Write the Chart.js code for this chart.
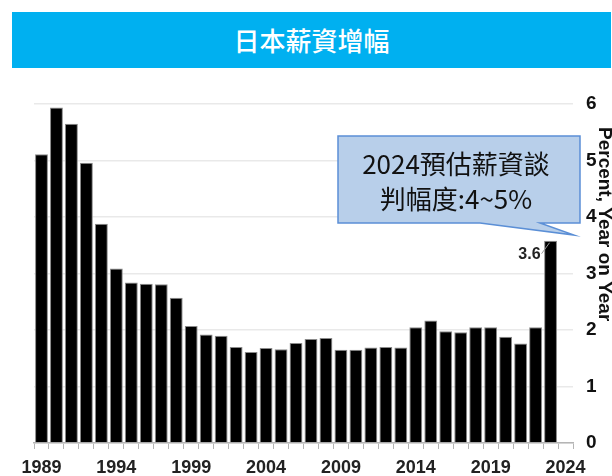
<!DOCTYPE html>
<html>
<head>
<meta charset="utf-8">
<script src="https://cdn.jsdelivr.net/npm/chart.js@4.4.1/dist/chart.umd.min.js"></script>
<style>
  body { margin: 0; background: #fff; }
  #wrap { position: relative; width: 612px; height: 476px; }
  #banner {
    position: absolute; left: 12px; top: 12px; width: 599px; height: 56px;
    background: #00b0f0; color: #fff; text-align: center;
    font: 500 26px "Noto Sans CJK TC", "Noto Sans", sans-serif; line-height: 56px;
  }
  #chart { position: absolute; left: 0; top: 0; }
</style>
</head>
<body>
<div id="wrap">
  <canvas id="chart" width="612" height="476"></canvas>
  <div id="banner">日本薪資增幅</div>
</div>
<script>
// years on the category axis (2024 is an empty slot, like the original)
const years = [];
for (let y = 1989; y <= 2024; y++) years.push(String(y));

// annual wage increase, percent year on year
const wageGrowth = [
  5.11, 5.94, 5.65, 4.96, 3.88, 3.09, 2.84, 2.82, 2.81, 2.57,
  2.07, 1.92, 1.90, 1.70, 1.61, 1.68, 1.66, 1.77, 1.84, 1.86,
  1.65, 1.65, 1.69, 1.70, 1.69, 2.05, 2.17, 1.98, 1.96, 2.05,
  2.05, 1.88, 1.76, 2.05, 3.58, null
];

const shownYears = ['1989', '1994', '1999', '2004', '2009', '2014', '2019', '2024'];
const calloutLines = ['2024預估薪資談', '判幅度:4~5%'];
const lastLabel = '3.6';
const yTitle = 'Percent, Year on Year';

const axisFont = '"Liberation Sans", Arial, sans-serif';

// callout box, the 3.6 label on the last bar and the y axis title
const calloutPlugin = {
  id: 'callout',
  afterDatasetsDraw(chart) {
    const ctx = chart.ctx;
    const ca = chart.chartArea;
    const bar = chart.getDatasetMeta(0).data[34];

    // 3.6 label with a short leader
    ctx.save();
    ctx.font = 'bold 16px ' + axisFont;
    ctx.fillStyle = '#222';
    ctx.textAlign = 'right';
    ctx.textBaseline = 'middle';
    ctx.fillText(lastLabel, bar.x - 10, bar.y + 14);
    ctx.strokeStyle = '#999';
    ctx.lineWidth = 1;
    ctx.beginPath();
    ctx.moveTo(bar.x - 9, bar.y + 13);
    ctx.lineTo(bar.x - 1, bar.y + 2);
    ctx.stroke();

    // speech box
    const left = ca.right - 235, right = ca.right + 7;
    const top = ca.top + 32, bottom = ca.top + 119;
    ctx.beginPath();
    ctx.moveTo(left, top);
    ctx.lineTo(right, top);
    ctx.lineTo(right, bottom);
    ctx.lineTo(ca.right - 33, bottom);
    ctx.lineTo(ca.right + 1, ca.top + 131);
    ctx.lineTo(ca.right - 93, bottom);
    ctx.lineTo(left, bottom);
    ctx.closePath();
    ctx.fillStyle = '#b8cfea';
    ctx.fill();
    ctx.strokeStyle = '#5b8fd6';
    ctx.lineWidth = 1.5;
    ctx.stroke();

    ctx.fillStyle = '#111';
    ctx.font = '26px "Noto Sans CJK TC", sans-serif';
    ctx.textAlign = 'center';
    const cx = (left + right) / 2 - 3;
    ctx.fillText(calloutLines[0], cx, top + 28);
    ctx.fillText(calloutLines[1], cx, top + 63);

    // axis title, read top to bottom
    ctx.translate(ca.right + 31, ca.top + 23);
    ctx.rotate(Math.PI / 2);
    ctx.textAlign = 'left';
    ctx.font = 'bold 19px "Liberation Sans", sans-serif';
    ctx.fillText(yTitle, 0, 0);
    ctx.restore();
  }
};

const data = {
  labels: years,
  datasets: [{
    data: wageGrowth,
    backgroundColor: '#000',
    borderColor: '#8a8a8a',
    borderWidth: 1,
    barPercentage: 0.86,
    categoryPercentage: 1
  }]
};

const options = {
  responsive: false,
  animation: false,
  layout: { padding: { left: 34, top: 104, right: 0, bottom: 0 } },
  plugins: {
    legend: { display: false },
    tooltip: { enabled: false }
  },
  scales: {
    x: {
      offset: true,
      grid: {
        offset: true,
        drawOnChartArea: false,
        drawTicks: true,
        tickLength: 6,
        color: '#b5b5b5'
      },
      border: { display: true, color: '#b5b5b5', width: 1.5 },
      ticks: {
        autoSkip: false,
        maxRotation: 0,
        padding: 8,
        color: '#222',
        font: { family: axisFont, size: 18, weight: 'bold' },
        callback(value) {
          const lab = this.getLabelForValue(value);
          return shownYears.includes(lab) ? lab : '';
        }
      },
      afterFit(scale) { scale.height = 33; }
    },
    y: {
      position: 'right',
      min: 0,
      max: 6,
      ticks: {
        stepSize: 1,
        padding: 13,
        color: '#111',
        font: { family: axisFont, size: 19, weight: 'bold' }
      },
      grid: { color: '#e9e9e9', drawTicks: false, lineWidth: 1.5 },
      border: { display: false },
      afterFit(scale) { scale.width = 39; }
    }
  }
};

const config = {
  type: 'bar',
  data: data,
  options: options,
  plugins: [calloutPlugin]
};

window.myChart = new Chart(document.getElementById('chart').getContext('2d'), config);
</script>
</body>
</html>
